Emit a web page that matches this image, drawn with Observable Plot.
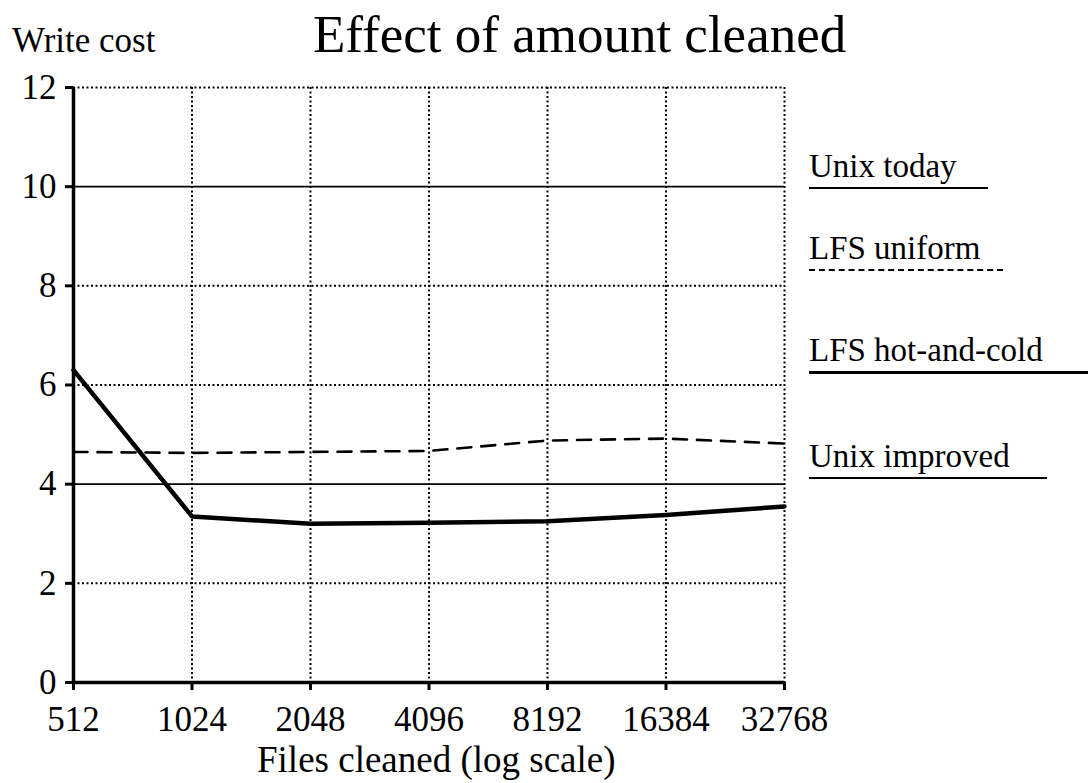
<!DOCTYPE html>
<html><head><meta charset="utf-8">
<script src="https://cdn.jsdelivr.net/npm/d3@7"></script>
<script src="https://cdn.jsdelivr.net/npm/@observablehq/plot@0.6"></script>
<style>
body{margin:0;background:#fff;font-family:"Liberation Serif","DejaVu Serif",serif;}
#wrap{position:relative;width:1088px;height:783px;overflow:hidden;background:#fff;}
#wrap svg{position:absolute;left:0;top:0;}
#wrap svg text{font-family:"Liberation Serif",serif !important;}
.t{position:absolute;white-space:nowrap;color:#000;line-height:1;font-family:"Liberation Serif",serif;}
.lg{position:absolute;white-space:nowrap;color:#000;line-height:1;font-family:"Liberation Serif",serif;font-size:33px;box-sizing:content-box;padding-bottom:4px;}
</style></head><body><div id="wrap"></div>
<script>
const files = [512, 1024, 2048, 4096, 8192, 16384, 32768];
const hotAndCold = [6.3, 3.35, 3.2, 3.22, 3.25, 3.38, 3.55];
const uniform = [4.65, 4.63, 4.65, 4.67, 4.88, 4.92, 4.82];
const unixToday = 10;
const unixImproved = 4;
const yTicks = [0, 2, 4, 6, 8, 10, 12];
const xTickLabels = ["512", "1024", "2048", "4096", "8192", "16384", "32768"];
const legendLabels = ["Unix today", "LFS uniform", "LFS hot-and-cold", "Unix improved"];
const titleText = "Effect of amount cleaned";
const yLabel = "Write cost";
const xLabel = "Files cleaned (log scale)";

const hotData = files.map((f, i) => ({x: f, y: hotAndCold[i]}));
const uniData = files.map((f, i) => ({x: f, y: uniform[i]}));
const serif = "Liberation Serif, serif";

const chart = Plot.plot({
  width: 1088, height: 783,
  marginLeft: 73, marginRight: 304, marginTop: 87, marginBottom: 101,
  style: {fontFamily: serif, fontSize: "35px", color: "#000", background: "transparent", overflow: "visible"},
  x: {type: "log", base: 2, domain: [512, 32768], label: null},
  y: {domain: [0, 12], label: null},
  marks: [
    Plot.gridX(files.slice(1), {stroke: "#000", strokeOpacity: 1, strokeWidth: 2, strokeDasharray: "2,2.5"}),
    Plot.gridY(yTicks.filter(d => d > 0 && d !== unixToday && d !== unixImproved), {stroke: "#000", strokeOpacity: 1, strokeWidth: 2, strokeDasharray: "2,2.5"}),
    Plot.ruleY([unixToday, unixImproved], {stroke: "#000", strokeWidth: 1.8}),
    Plot.line(uniData, {x: "x", y: "y", stroke: "#000", strokeWidth: 2.6, strokeDasharray: "14,10"}),
    Plot.line(hotData, {x: "x", y: "y", stroke: "#000", strokeWidth: 4.5}),
    Plot.axisX({ticks: files, tickFormat: d => xTickLabels[files.indexOf(d)], tickSize: 8, tickPadding: 16, strokeWidth: 3, fontSize: 35, fontFamily: serif}),
    Plot.axisY({ticks: yTicks, tickSize: 8, tickPadding: 9, strokeWidth: 3, fontSize: 35, fontFamily: serif}),
    Plot.ruleX([512], {stroke: "#000", strokeWidth: 3.5}),
    Plot.ruleY([0], {stroke: "#000", strokeWidth: 3.5})
  ]
});
const wrap = document.getElementById("wrap");
wrap.appendChild(chart);

function addText(txt, left, top, size) {
  const d = document.createElement("div");
  d.className = "t"; d.textContent = txt;
  d.style.left = left + "px"; d.style.top = top + "px"; d.style.fontSize = size + "px";
  wrap.appendChild(d);
}
addText(yLabel, 12, 23, 35);
addText(titleText, 313, 8, 53);
addText(xLabel, 257, 741, 37);

const legendStyle = [
  {top: 150, width: 179, border: "2px solid #000"},
  {top: 232, width: 194, border: "2px dashed #000"},
  {top: 334, width: 279, border: "3.5px solid #000"},
  {top: 440, width: 238, border: "2px solid #000"}
];
legendLabels.forEach((lab, i) => {
  const d = document.createElement("div");
  d.className = "lg"; d.textContent = lab;
  d.style.left = "809px"; d.style.top = legendStyle[i].top + "px";
  d.style.width = legendStyle[i].width + "px";
  d.style.borderBottom = legendStyle[i].border;
  wrap.appendChild(d);
});
</script>
</body></html>
